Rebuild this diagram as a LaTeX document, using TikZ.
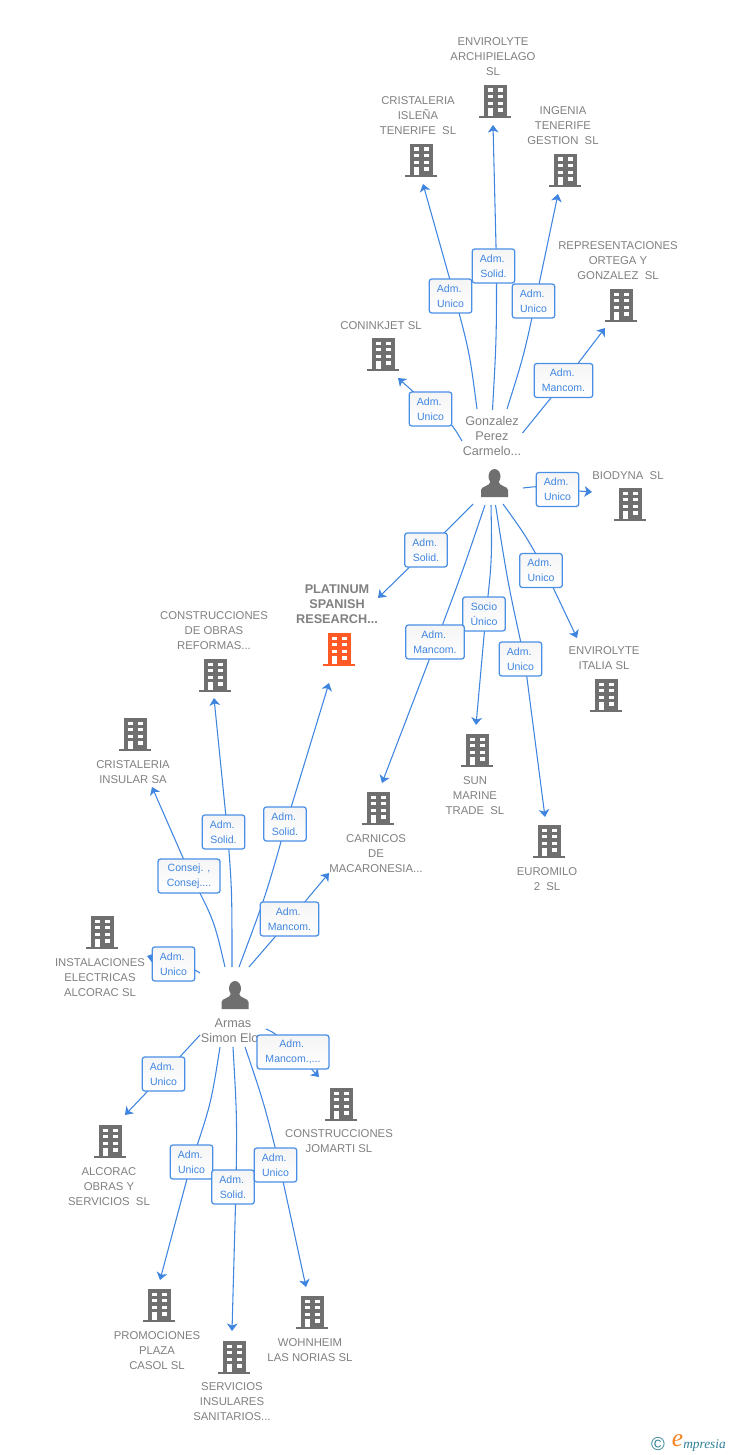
\documentclass[tikz,border=0pt]{standalone}
\usepackage{fontspec}
\setmainfont{Liberation Sans}
\newfontfamily\logofont{Liberation Serif}
\usetikzlibrary{arrows.meta,calc}
\pgfdeclarelayer{bg}
\pgfsetlayers{bg,main}
\definecolor{linkblue}{HTML}{3F85E0}
\definecolor{boxblue}{HTML}{4A8FE6}
\definecolor{labelgrey}{HTML}{808080}
\definecolor{icongrey}{HTML}{6F6F6F}
\definecolor{platorange}{HTML}{FF5A26}
\definecolor{logoteal}{HTML}{2F7F95}
\definecolor{logoorange}{HTML}{F58220}
\tikzset{
  x=0.75pt,y=-0.75pt,
  lab/.style={text=labelgrey,align=center,inner sep=0pt,yshift=-0.75pt,font=\fontsize{8.5pt}{11.25pt}\selectfont},
  biglab/.style={lab,yshift=0.5pt,font=\fontsize{9.5pt}{11.25pt}\selectfont},
  relbox/.style={draw=boxblue,line width=0.95pt,rounded corners=2pt,top color=black!4,bottom color=white,
    text=linkblue,align=center,inner sep=0pt,minimum height=25.5pt,font=\fontsize{7.9pt}{11.25pt}\selectfont},
  ln/.style={draw=linkblue,line width=0.8pt},
  tipped/.style={ln,-{Stealth[length=5.6pt,width=8pt,inset=1.5pt]}},
  iconbox/.style={inner sep=0pt,minimum width=24pt,minimum height=25pt}
}
\newcommand\bld[4][icongrey]{% colour, name, x, top y
  \begin{scope}[shift={(#3,#4)}]
    \fill[#1] (-11.5,0) rectangle (11.5,31);
    \fill[#1] (-16,31) rectangle (16,33);
    \foreach \wy in {3.5,10,16.7}{
      \fill[white] (-7.5,\wy) rectangle (-2.5,\wy+3.4);
      \fill[white] (2.5,\wy) rectangle (7.5,\wy+3.4);
    }
    \fill[white] (-7.5,23.3) rectangle (-2.5,31);
    \fill[white] (2.5,23.3) rectangle (7.5,26.7);
    \node[iconbox] (#2) at (0,16.5) {};
  \end{scope}}
\newcommand\person[3]{% name, x, top y
  \begin{scope}[shift={(#2,#3)}]
    \fill[icongrey] (0,-1) ellipse (6 and 7.5) ;
    \fill[icongrey] (-13.5,19.5) -- (-13.5,12.5) .. controls (-13.5,8.5) and (-4.5,9) .. (-4,4)
      -- (4,4) .. controls (4.5,9) and (13.5,8.5) .. (13.5,12.5) -- (13.5,19.5) -- cycle;
    \node[inner sep=0pt,minimum width=20pt,minimum height=20pt] (#1) at (0,6) {};
  \end{scope}}
\newcommand\conn[6]{% id, start, control, box, dx, tip
  \coordinate (#1s) at (#2);
  \coordinate (#1t) at (#6);
  \begin{pgfonlayer}{bg}
    \draw[ln] (#1s) .. controls (#3) .. ([shift={(#5,0)}]#4.center);
    \draw[tipped] ([shift={(#5,0)}]#4.center) -- (#1t);
  \end{pgfonlayer}}
\newcommand\admu{Adm.\hspace*{2pt}\\Unico}
\newcommand\adms{Adm.\hspace*{2pt}\\Solid.}
\newcommand\admm{Adm.\hspace*{2pt}\\Mancom.}
\begin{document}
\begin{tikzpicture}
\useasboundingbox (0,0) rectangle (728,1455);
% buildings
\bld{bEnvA}{495}{85}
\bld{bCrisI}{421}{144}
\bld{bIng}{565}{154}
\bld{bRep}{621}{289}
\bld{bCon}{383}{338}
\bld{bBio}{630}{488}
\bld{bItal}{606}{679}
\bld[platorange]{bPlat}{339}{633}
\bld{bSun}{477}{734}
\bld{bEuro}{549}{825}
\bld{bCarn}{378}{792}
\bld{bObras}{215}{659}
\bld{bInsu}{135}{718}
\bld{bInst}{102}{916}
\bld{bAlc}{110}{1125}
\bld{bJom}{341}{1088}
\bld{bProm}{159}{1289}
\bld{bServ}{234}{1341}
\bld{bWoh}{312}{1296}
% persons
\person{pGon}{494.5}{477.5}
\person{pArm}{235}{989.5}
% labels
\node[lab] (tEnvA) at (493,56) {ENVIROLYTE\\ARCHIPIELAGO\\SL};
\node[lab] (tCrisI) at (418,115) {CRISTALERIA\\ISLEÑA\\TENERIFE\ \ SL};
\node[lab] (tIng) at (563,125) {INGENIA\\TENERIFE\\GESTION\ \ SL};
\node[lab] (tRep) at (618,260) {REPRESENTACIONES\\ORTEGA Y\\GONZALEZ\ \ SL};
\node[lab] (tCon) at (381,325) {CONINKJET SL};
\node[biglab] (tGon) at (492,436) {Gonzalez\\Perez\\Carmelo...};
\node[lab] (tBio) at (628,475) {BIODYNA\ \ SL};
\node[lab,yshift=0.5pt,font=\fontsize{9.5pt}{11.25pt}\selectfont\bfseries] (tPlat) at (337,604) {PLATINUM\\SPANISH\\RESEARCH...};
\node[lab] (tItal) at (604,657.5) {ENVIROLYTE\\ITALIA SL};
\node[lab] (tObras) at (214,630) {CONSTRUCCIONES\\DE OBRAS\\REFORMAS...};
\node[lab] (tInsu) at (133,771.5) {CRISTALERIA\\INSULAR SA};
\node[lab] (tCarn) at (376,853) {CARNICOS\\DE\\MACARONESIA...};
\node[lab] (tSun) at (475,795) {SUN\\MARINE\\TRADE\ \ SL};
\node[lab] (tEuro) at (547,878.5) {EUROMILO\\2\ \ SL};
\node[lab] (tInst) at (100,977) {INSTALACIONES\\ELECTRICAS\\ALCORAC SL};
\node[biglab] (tArm) at (233,1030.5) {Armas\\Simon Elo\hspace*{5pt}};
\node[lab] (tJom) at (339,1140.5) {CONSTRUCCIONES\\JOMARTI SL};
\node[lab] (tAlc) at (109,1186) {ALCORAC\\OBRAS Y\\SERVICIOS\ \ SL};
\node[lab] (tProm) at (157,1350) {PROMOCIONES\\PLAZA\\CASOL SL};
\node[lab] (tServ) at (232,1401) {SERVICIOS\\INSULARES\\SANITARIOS...};
\node[lab] (tWoh) at (310,1349.5) {WOHNHEIM\\LAS NORIAS SL};
% relation boxes
\node[relbox,minimum width=32pt] (rEnvA) at (493.5,266) {\adms};
\node[relbox,minimum width=32pt] (rCrisI) at (450.5,296) {\admu};
\node[relbox,minimum width=32pt] (rIng) at (533.5,301) {\admu};
\node[relbox,minimum width=44pt] (rRep) at (563.5,380.5) {\admm};
\node[relbox,minimum width=32pt] (rCon) at (430.5,409) {\admu};
\node[relbox,minimum width=32pt] (rBio) at (557.5,489.5) {\admu};
\node[relbox,minimum width=32pt] (rPlatG) at (426,550) {\adms};
\node[relbox,minimum width=32pt] (rItal) at (541,570.5) {\admu};
\node[relbox,minimum width=32pt] (rSun) at (484,614) {Socio\\Único};
\node[relbox,minimum width=44pt] (rCarnG) at (435,642) {\admm};
\node[relbox,minimum width=32pt] (rEuro) at (520.5,659) {\admu};
\node[relbox,minimum width=46.5pt] (rInsu) at (189,876) {Consej. ,\\Consej....};
\node[relbox,minimum width=32pt] (rObras) at (223.5,832) {\adms};
\node[relbox,minimum width=32pt] (rPlatA) at (285,824) {\adms};
\node[relbox,minimum width=44pt] (rCarnA) at (289.5,919) {\admm};
\node[relbox,minimum width=32pt] (rInst) at (173.5,964) {\admu};
\node[relbox,minimum width=54pt] (rJom) at (293,1052) {Adm.\hspace*{2pt}\\Mancom.,...};
\node[relbox,minimum width=32pt] (rAlc) at (163.5,1074) {\admu};
\node[relbox,minimum width=32pt] (rProm) at (191.5,1162) {\admu};
\node[relbox,minimum width=32pt] (rServ) at (233,1187) {\adms};
\node[relbox,minimum width=32pt] (rWoh) at (275.5,1165) {\admu};
% connectors from Gonzalez
\conn{a1}{477,409}{469.5,352}{rCrisI}{4}{423,184}
\conn{a2}{492.5,410}{496.5,338}{rEnvA}{3}{493,125}
\conn{a3}{507,409}{524,355}{rIng}{2}{558,194}
\conn{a4}{522.5,433}{544,407}{rRep}{1.5}{605,328}
\conn{a5}{462,441}{452,424}{rCon}{2}{398,378}
\conn{a6}{523,488}{540,486}{rBio}{0}{592,492}
\conn{a7}{473,504}{450,527}{rPlatG}{1}{378,598}
\conn{a8}{485,505}{462,573}{rCarnG}{1}{382,783}
\conn{a9}{491,505}{492,560}{rSun}{2}{476,725}
\conn{a10}{495.5,505}{508,584}{rEuro}{4}{545,817}
\conn{a11}{503,504}{526,536}{rItal}{4}{577,638}
% connectors from Armas
\conn{b1}{200,973}{190,967}{rInst}{0}{147,956}
\conn{b2}{225,967}{214,920}{rInsu}{2}{152,787}
\conn{b3}{232,967}{232,890}{rObras}{4}{214,698}
\conn{b4}{239,967}{266,895}{rPlatA}{1}{329,683}
\conn{b5}{249,967}{268,945}{rCarnA}{1}{329,873}
\conn{b6}{266,1029}{275,1033}{rJom}{2}{319,1077}
\conn{b7}{200,1035}{182,1055}{rAlc}{0.5}{125,1115}
\conn{b8}{220,1047}{211,1104}{rProm}{0}{160,1280}
\conn{b9}{233,1047}{237,1117}{rServ}{3}{232,1331}
\conn{b10}{245,1047}{264,1103}{rWoh}{4}{306,1287}
% logo
\node[text=logoteal,inner sep=0pt,font=\fontsize{14pt}{15pt}\selectfont] (logoC) at (658,1444) {©};
\node[text=logoorange,inner sep=0pt,font=\logofont\itshape\fontsize{19pt}{20pt}\selectfont] (logoE) at (677.5,1441) {e};
\node[text=logoteal,inner sep=0pt,anchor=west,font=\logofont\itshape\fontsize{10pt}{11pt}\selectfont] (logoW) at (683,1445) {mpresia};
\end{tikzpicture}
\end{document}
